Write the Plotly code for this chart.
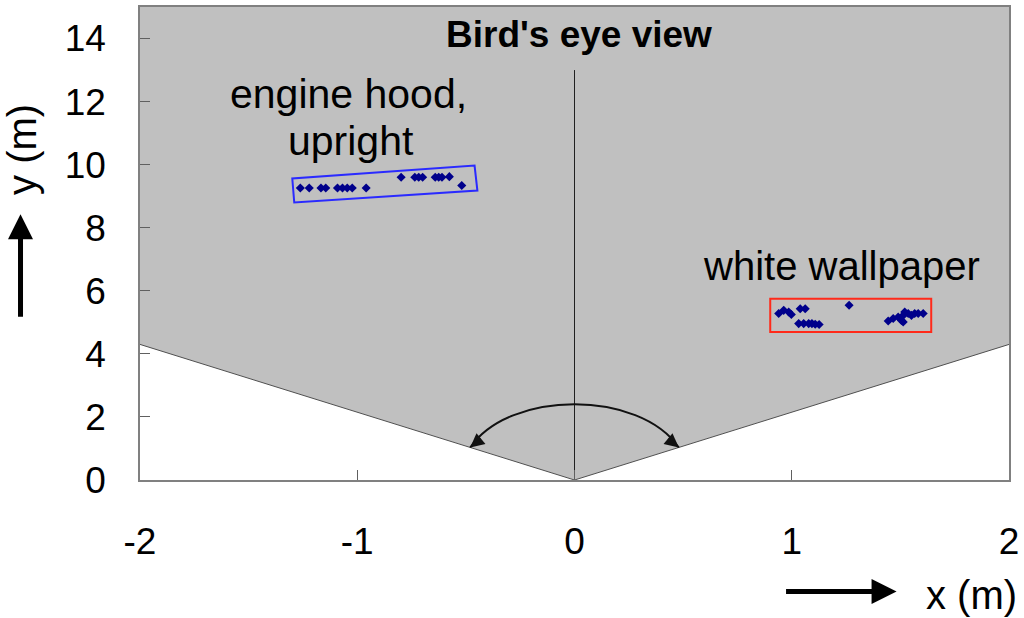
import plotly.graph_objects as go

# ---- data ----
hood_x = [-1.262, -1.221, -1.167, -1.145, -1.091, -1.068, -1.046, -1.023, -0.959,
          -0.798, -0.735, -0.717, -0.699, -0.641, -0.625, -0.610, -0.576, -0.519]
hood_y = [9.26, 9.26, 9.26, 9.26, 9.26, 9.26, 9.26, 9.26, 9.26,
          9.60, 9.60, 9.60, 9.60, 9.60, 9.60, 9.60, 9.62, 9.34]

wall_x = [0.940, 0.963, 0.986, 0.998, 1.039, 1.062, 1.032, 1.055, 1.078, 1.093, 1.108, 1.126,
          1.264, 1.444, 1.467, 1.490, 1.505, 1.513, 1.520, 1.536, 1.551, 1.566, 1.582, 1.605, 1.513]
wall_y = [5.28, 5.38, 5.33, 5.25, 5.43, 5.43, 4.96, 4.96, 4.96, 4.96, 4.94, 4.93,
          5.54, 5.04, 5.12, 5.17, 5.06, 5.22, 5.33, 5.28, 5.22, 5.28, 5.28, 5.28, 5.01]

hood_box_x = [-1.299, -1.290, -0.447, -0.460]
hood_box_y = [9.56, 8.80, 9.18, 9.97]
wall_box_x = [0.901, 1.642]
wall_box_y = [4.69, 5.75]

fov_edge_y = 4.3      # y of field-of-view boundary at x = +/-2
center_line_top = 13.0
arc_left = (-0.48, 1.03)
arc_right = (0.48, 1.03)
arc_ctrl_y = 2.86

x_ticks = [-2, -1, 0, 1, 2]
y_ticks = [0, 2, 4, 6, 8, 10, 12, 14]

FONT = "Liberation Sans, Arial, sans-serif"

fig = go.Figure()

fig.add_trace(go.Scatter(x=hood_x, y=hood_y, mode="markers",
                         marker=dict(symbol="diamond", size=7, color="#00008B"),
                         showlegend=False, hoverinfo="skip"))
fig.add_trace(go.Scatter(x=wall_x, y=wall_y, mode="markers",
                         marker=dict(symbol="diamond", size=7, color="#00008B"),
                         showlegend=False, hoverinfo="skip"))

shapes = []
# gray field-of-view region
shapes.append(dict(type="path", xref="x", yref="y", layer="below",
                   path=f"M -2,{fov_edge_y} L 0,0 L 2,{fov_edge_y} L 2,15 L -2,15 Z",
                   fillcolor="#C0C0C0", line=dict(width=0)))
shapes.append(dict(type="path", xref="x", yref="y", layer="below",
                   path=f"M -2,{fov_edge_y} L 0,0 L 2,{fov_edge_y}",
                   line=dict(color="#505050", width=1)))
# centre line
shapes.append(dict(type="line", xref="x", yref="y", layer="below",
                   x0=0, y0=0, x1=0, y1=center_line_top,
                   line=dict(color="#202020", width=1)))
# arc
a = 0.3
shapes.append(dict(type="path", xref="x", yref="y",
                   path=(f"M {arc_left[0]},{arc_left[1]} C {-a},{arc_ctrl_y} {a},{arc_ctrl_y} "
                         f"{arc_right[0]},{arc_right[1]}"),
                   line=dict(color="#111111", width=2)))
# boxes
p = " L ".join(f"{x},{y}" for x, y in zip(hood_box_x, hood_box_y))
shapes.append(dict(type="path", xref="x", yref="y", path=f"M {p} Z",
                   line=dict(color="#2A2AFF", width=2)))
shapes.append(dict(type="rect", xref="x", yref="y",
                   x0=wall_box_x[0], x1=wall_box_x[1], y0=wall_box_y[0], y1=wall_box_y[1],
                   line=dict(color="#FF2A1A", width=2)))

annotations = [
    dict(x=0.02, y=14.12, xref="x", yref="y", text="<b>Bird's eye view</b>", showarrow=False,
         font=dict(family=FONT, size=37, color="black"), xanchor="center", yanchor="middle"),
    dict(x=-1.041, y=12.25, xref="x", yref="y", text="engine hood,", showarrow=False,
         font=dict(family=FONT, size=41, color="black"), xanchor="center", yanchor="middle"),
    dict(x=-1.027, y=10.74, xref="x", yref="y", text="upright", showarrow=False,
         font=dict(family=FONT, size=41, color="black"), xanchor="center", yanchor="middle"),
    dict(x=1.231, y=6.79, xref="x", yref="y", text="white wallpaper", showarrow=False,
         font=dict(family=FONT, size=40, color="black"), xanchor="center", yanchor="middle"),
    # arc arrowheads
    dict(x=arc_left[0], y=arc_left[1], xref="x", yref="y", text="", showarrow=True,
         ax=12, ay=-10, arrowhead=2, arrowsize=1.4, arrowwidth=2, arrowcolor="#111111", standoff=0),
    dict(x=arc_right[0], y=arc_right[1], xref="x", yref="y", text="", showarrow=True,
         ax=-12, ay=-10, arrowhead=2, arrowsize=1.4, arrowwidth=2, arrowcolor="#111111", standoff=0),
    # axis titles
    dict(x=-0.1352, y=0.699, xref="paper", yref="paper", text="y (m)", showarrow=False,
         textangle=-90, font=dict(family=FONT, size=40, color="black"),
         xanchor="center", yanchor="middle"),
    dict(x=-0.1375, y=0.562, xref="paper", yref="paper", text="", showarrow=True,
         ax=0, ay=104, arrowhead=2, arrowsize=1, arrowwidth=5, arrowcolor="black", standoff=0),
    dict(x=0.9565, y=-0.244, xref="paper", yref="paper", text="x (m)", showarrow=False,
         font=dict(family=FONT, size=40, color="black"), xanchor="center", yanchor="middle"),
    dict(x=0.8706, y=-0.2358, xref="paper", yref="paper", text="", showarrow=True,
         ax=-112, ay=0, arrowhead=2, arrowsize=1, arrowwidth=5, arrowcolor="black", standoff=0),
]

fig.update_layout(
    width=1024, height=618,
    margin=dict(l=140, r=11, t=5, b=138),
    plot_bgcolor="white", paper_bgcolor="white",
    shapes=shapes, annotations=annotations,
    font=dict(family=FONT, color="black"),
)
fig.update_xaxes(range=[-2, 2], tickvals=x_ticks, ticktext=[str(v) for v in x_ticks],
                 showgrid=False, zeroline=False, showline=True, mirror=True,
                 linecolor="#808080", linewidth=1.5, ticks="inside", ticklen=10,
                 tickcolor="#606060", tickfont=dict(family=FONT, size=37, color="black"),
                 ticklabelstandoff=28)
fig.update_yaxes(range=[0, 15], tickvals=y_ticks, ticktext=[str(v) for v in y_ticks],
                 showgrid=False, zeroline=False, showline=True, mirror=True,
                 linecolor="#808080", linewidth=1.5, ticks="inside", ticklen=10,
                 tickcolor="#606060", tickfont=dict(family=FONT, size=37, color="black"),
                 ticklabelstandoff=25)

fig.write_html("out.html", config={"displayModeBar": False},
               post_script="document.body.style.margin='0';document.body.style.overflow='hidden';")
